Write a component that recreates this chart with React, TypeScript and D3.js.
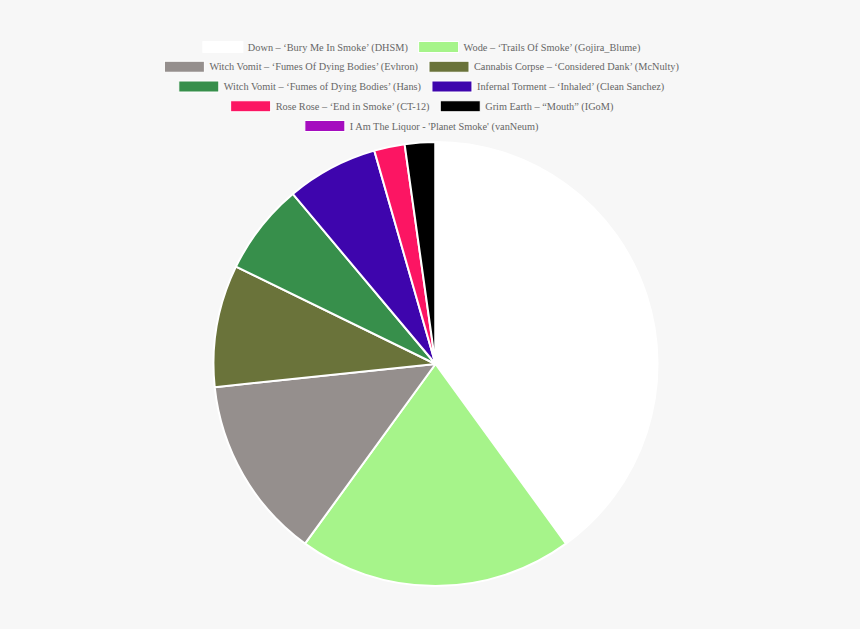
import { useMemo } from "react";
import * as d3 from "d3";

const labels = [
  "Down – ‘Bury Me In Smoke’ (DHSM)",
  "Wode – ‘Trails Of Smoke’ (Gojira_Blume)",
  "Witch Vomit – ‘Fumes Of Dying Bodies’ (Evhron)",
  "Cannabis Corpse – ‘Considered Dank’ (McNulty)",
  "Witch Vomit – ‘Fumes of Dying Bodies’ (Hans)",
  "Infernal Torment – ‘Inhaled’ (Clean Sanchez)",
  "Rose Rose – ‘End in Smoke’ (CT-12)",
  "Grim Earth – “Mouth” (IGoM)",
  "I Am The Liquor - 'Planet Smoke' (vanNeum)",
];
const values = [18, 9, 6, 4, 3, 3, 1, 1, 0];
const colors = [
  "#ffffff",
  "#a6f48a",
  "#958f8d",
  "#6a733a",
  "#378f4b",
  "#3e05ad",
  "#fc1563",
  "#000000",
  "#a50dbf",
];

const W = 860;
const H = 629;
const FONT = "10.3px 'Liberation Serif', 'Times New Roman', serif";

function measure(text: string) {
  const ctx = document.createElement("canvas").getContext("2d")!;
  ctx.font = FONT;
  return ctx.measureText(text).width;
}

export default function App() {
  const cx = 435.5;
  const cy = 364;
  const r = 222;

  const arcs = d3
    .pie<number>()
    .sort(null)
    .value((d) => d)(values);
  const arc = d3.arc<d3.PieArcDatum<number>>().innerRadius(0).outerRadius(r);

  // legend rows like chart.js: box 40 + gap 5 + text, 10 padding between items
  const rows = useMemo(() => {
    const maxW = 540;
    const out: { i: number; w: number }[][] = [[]];
    let lineW = 0;
    labels.forEach((l, i) => {
      const w = 40 + 5 + measure(l);
      if (lineW > 0 && lineW + w + 10 > maxW) {
        out.push([]);
        lineW = 0;
      }
      out[out.length - 1].push({ i, w });
      lineW += (lineW > 0 ? 10 : 0) + w;
    });
    return out;
  }, []);

  const legendCx = 422;
  const rowY = (k: number) => 47 + k * 19.75;

  return (
    <div style={{ position: "fixed", left: 0, top: 0, width: W, height: H, background: "#f7f7f7" }}>
      <svg width={W} height={H}>
        <rect width={W} height={H} fill="#f7f7f7" />
        {rows.map((row, k) => {
          const total = row.reduce((s, it) => s + it.w, 0) + 10 * (row.length - 1);
          let x = legendCx - total / 2;
          const y = rowY(k);
          return (
            <g key={k}>
              {row.map((it) => {
                const x0 = x;
                x += it.w + 10;
                return (
                  <g key={it.i}>
                    <rect
                      x={x0}
                      y={y - 5.5}
                      width={40}
                      height={11}
                      fill={colors[it.i]}
                      stroke="#ffffff"
                      strokeWidth={1}
                    />
                    <text
                      x={x0 + 45}
                      y={y}
                      dy="0.35em"
                      fill="#666"
                      style={{ font: FONT }}
                    >
                      {labels[it.i]}
                    </text>
                  </g>
                );
              })}
            </g>
          );
        })}
        <g transform={`translate(${cx},${cy})`}>
          {arcs.map((a, i) => (
            <path
              key={i}
              d={arc(a) ?? ""}
              fill={colors[i]}
              stroke="#ffffff"
              strokeWidth={2}
              strokeLinejoin="bevel"
            />
          ))}
        </g>
      </svg>
    </div>
  );
}
